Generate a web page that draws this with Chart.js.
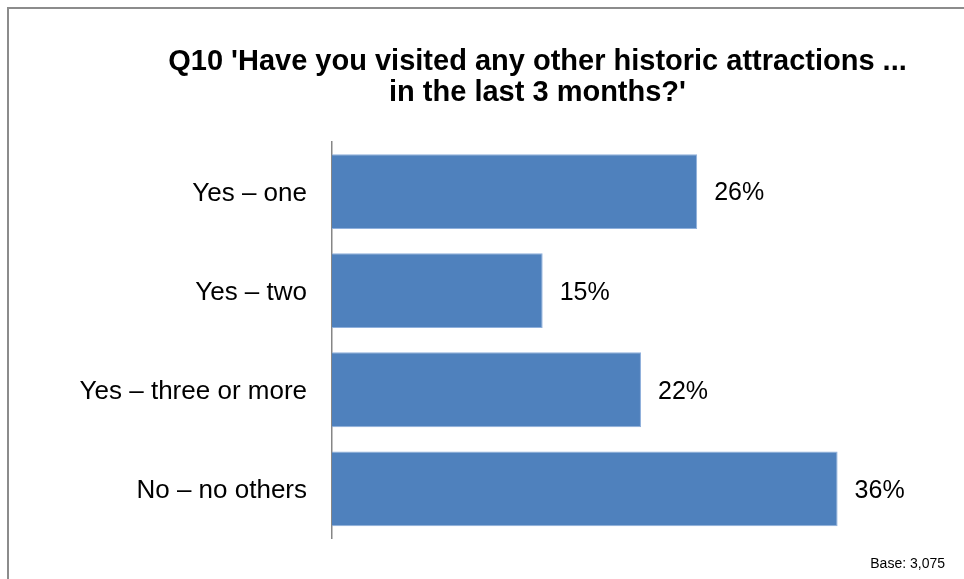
<!DOCTYPE html>
<html>
<head>
<meta charset="utf-8">
<title>Q10 historic attractions</title>
<script src="https://cdn.jsdelivr.net/npm/chart.js@4.4.1/dist/chart.umd.min.js"></script>
<style>
  html, body { margin: 0; padding: 0; background: #fff; overflow: hidden; }
  #frame {
    position: absolute; left: 7px; top: 7px; width: 2000px; height: 2000px;
    border-top: 2px solid #8c8c8c; border-left: 2px solid #8c8c8c;
  }
  #chart { position: absolute; left: 0; top: 0; }
</style>
</head>
<body>
<div id="frame"></div>
<canvas id="chart" width="964" height="579"></canvas>
<script>
// Survey answers and their shares (%)
const categories = ['Yes – one', 'Yes – two', 'Yes – three or more', 'No – no others'];
const shares = [26, 15, 22, 36];
const titleLines = ["Q10 'Have you visited any other historic attractions ...", "in the last 3 months?'"];
const baseNote = 'Base: 3,075';

const FONT = "'Liberation Sans', Arial, sans-serif";
Chart.defaults.font.family = FONT;
Chart.defaults.color = '#000';

// Writes each bar's percentage just past its end
const valueLabels = {
  id: 'valueLabels',
  afterDatasetsDraw(chart) {
    const ctx = chart.ctx;
    const meta = chart.getDatasetMeta(0);
    ctx.save();
    ctx.font = '25px ' + FONT;
    ctx.fillStyle = '#000';
    ctx.textAlign = 'left';
    ctx.textBaseline = 'middle';
    meta.data.forEach((bar, i) => {
      ctx.fillText(shares[i] + '%', bar.x + 17, bar.y + 2);
    });
    ctx.restore();
  }
};

// Heading (centred over the whole frame) and the sample-size note
const captions = {
  id: 'captions',
  afterDraw(chart) {
    const ctx = chart.ctx;
    ctx.save();
    ctx.fillStyle = '#000';
    ctx.textBaseline = 'alphabetic';
    ctx.textAlign = 'center';
    ctx.font = 'bold 29px ' + FONT;
    ctx.fillText(titleLines[0], 537.5, 70);
    ctx.fillText(titleLines[1], 537.5, 101);
    ctx.textAlign = 'right';
    ctx.font = '14px ' + FONT;
    ctx.fillText(baseNote, 945, 568);
    ctx.restore();
  }
};

new Chart(document.getElementById('chart'), {
  type: 'bar',
  data: {
    labels: categories,
    datasets: [{
      data: shares,
      backgroundColor: '#4F81BD',
      borderColor: '#8fb0dc',
      borderWidth: 1,
      barPercentage: 0.755,
      categoryPercentage: 1
    }]
  },
  options: {
    indexAxis: 'y',
    responsive: false,
    animation: false,
    layout: { padding: { left: 60, right: 0, top: 142, bottom: 39 } },
    scales: {
      x: { display: false, min: 0, max: 45 },
      y: {
        afterFit(scale) { scale.width = 272; },
        grid: { display: false, drawTicks: false },
        border: { display: true, color: '#868686', width: 1.5 },
        ticks: { padding: 25, labelOffset: 2, color: '#000', font: { size: 26 } }
      }
    },
    plugins: {
      legend: { display: false },
      tooltip: { enabled: false },
      title: { display: false }
    }
  },
  plugins: [valueLabels, captions]
});
</script>
</body>
</html>
